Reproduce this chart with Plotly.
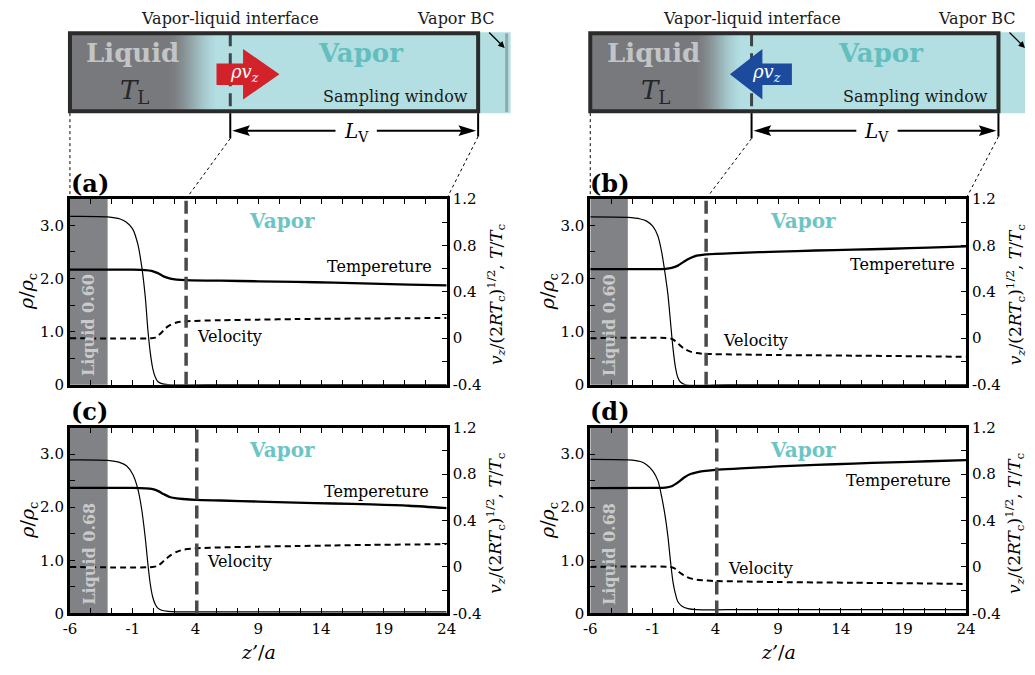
import plotly.graph_objects as go

W, H = 1035, 675
SERIF = "DejaVu Serif"

# ---------------- profiles along z'/a ----------------
# density rho/rho_c (left axis)
z_rho_a = [-6, -3, -2, -1.5, -1, -0.6, -0.3, 0, 0.2, 0.4, 0.6, 0.8, 1.0, 1.3, 1.8, 5, 24]
rho_a = [3.17, 3.16, 3.12, 3.06, 2.93, 2.65, 2.25, 1.65, 1.05, 0.60, 0.30, 0.14, 0.06, 0.02, 0.0, 0.0, 0.0]
z_rho_b = [-6, -3, -2, -1.5, -1, -0.6, -0.3, 0, 0.2, 0.4, 0.6, 0.8, 1.0, 1.2, 1.6, 5, 24]
rho_b = [3.16, 3.15, 3.12, 3.08, 2.98, 2.80, 2.50, 2.05, 1.70, 1.20, 0.70, 0.33, 0.13, 0.05, 0.0, 0.0, 0.0]
z_rho_c = [-6, -3, -2, -1.5, -1, -0.6, -0.3, 0, 0.2, 0.4, 0.6, 0.8, 1.0, 1.3, 1.8, 2.5, 5, 24]
rho_c = [2.89, 2.88, 2.84, 2.78, 2.62, 2.35, 1.98, 1.42, 0.95, 0.55, 0.30, 0.17, 0.10, 0.06, 0.04, 0.03, 0.03, 0.03]
z_rho_d = [-6, -3, -2, -1.5, -1, -0.6, -0.3, 0, 0.2, 0.4, 0.6, 0.8, 1.0, 1.3, 1.8, 2.5, 5, 24]
rho_d = [2.90, 2.89, 2.86, 2.80, 2.68, 2.50, 2.20, 1.80, 1.45, 1.00, 0.60, 0.37, 0.22, 0.14, 0.09, 0.07, 0.07, 0.07]

# temperature T/T_c (right axis)
z_T_a = [-6, -1, 0, 0.5, 1.0, 1.5, 2.0, 2.5, 3.2, 6, 9, 12, 15, 18, 21, 24]
T_a = [0.59, 0.59, 0.587, 0.58, 0.56, 0.53, 0.513, 0.505, 0.50, 0.495, 0.49, 0.485, 0.478, 0.47, 0.462, 0.455]
z_T_b = [-6, -1, 0, 0.5, 1.0, 1.5, 2.0, 2.5, 3.25, 6, 9, 12, 15, 18, 21, 24]
T_b = [0.595, 0.595, 0.597, 0.605, 0.625, 0.66, 0.69, 0.71, 0.722, 0.735, 0.745, 0.755, 0.762, 0.77, 0.78, 0.79]
z_T_c = [-6, -1, 0, 0.5, 1.0, 1.5, 2.0, 2.5, 3, 4, 6, 9, 12, 15, 18, 21, 24]
T_c = [0.68, 0.68, 0.677, 0.672, 0.655, 0.625, 0.60, 0.59, 0.585, 0.578, 0.572, 0.563, 0.553, 0.546, 0.538, 0.527, 0.507]
z_T_d = [-6, -1, 0, 0.5, 1.0, 1.5, 2.0, 2.5, 3, 4, 6, 9, 12, 15, 18, 21, 24]
T_d = [0.678, 0.68, 0.683, 0.695, 0.728, 0.77, 0.80, 0.815, 0.825, 0.836, 0.848, 0.865, 0.878, 0.89, 0.90, 0.91, 0.92]

# velocity v_z/(2RT_c)^(1/2) (right axis)
z_v_a = [-6, 0.5, 0.8, 1.0, 1.3, 1.6, 2.0, 2.5, 3.2, 6, 9, 12, 15, 18, 21, 24]
v_a = [0, 0, 0.005, 0.02, 0.05, 0.085, 0.115, 0.135, 0.145, 0.155, 0.16, 0.165, 0.168, 0.17, 0.172, 0.175]
z_v_b = [-6, 0.3, 0.6, 0.9, 1.2, 1.5, 2.0, 2.5, 3.2, 6, 9, 12, 15, 18, 21, 24]
v_b = [0, 0, -0.01, -0.035, -0.065, -0.09, -0.115, -0.128, -0.135, -0.14, -0.145, -0.147, -0.15, -0.153, -0.156, -0.16]
z_v_c = [-6, 0.6, 1.0, 1.3, 1.6, 2.0, 2.5, 3, 4, 6, 9, 12, 15, 18, 21, 24]
v_c = [0, 0, 0.01, 0.035, 0.065, 0.10, 0.13, 0.148, 0.16, 0.168, 0.175, 0.18, 0.185, 0.19, 0.193, 0.197]
z_v_d = [-6, 0.4, 0.7, 1.0, 1.3, 1.6, 2.0, 2.5, 3, 4, 6, 9, 12, 15, 18, 21, 24]
v_d = [0, 0, -0.01, -0.035, -0.06, -0.08, -0.098, -0.11, -0.115, -0.121, -0.125, -0.13, -0.133, -0.136, -0.139, -0.142, -0.146]

# sampling-window start and liquid band per panel
sample_z = [3.25, 3.25, 4.1, 4.1]
liquid_band = [-6, -3]
liquid_T = ["0.60", "0.60", "0.68", "0.68"]
panel_tags = ["(a)", "(b)", "(c)", "(d)"]

x_ticks = [-6, -1, 4, 9, 14, 19, 24]
rho_ticks = [0, 1, 2, 3]
rho_ticktext = ["0", "1.0", "2.0", "3.0"]
right_ticks = [-0.4, 0, 0.4, 0.8, 1.2]
right_ticktext = ["-0.4", "0", "0.4", "0.8", "1.2"]

profiles = [
    (z_rho_a, rho_a, z_T_a, T_a, z_v_a, v_a),
    (z_rho_b, rho_b, z_T_b, T_b, z_v_b, v_b),
    (z_rho_c, rho_c, z_T_c, T_c, z_v_c, v_c),
    (z_rho_d, rho_d, z_T_d, T_d, z_v_d, v_d),
]

# panel boxes in pixels: left, right, top, bottom
boxes = [(64, 447, 195, 386), (593, 975, 195, 386), (64, 447, 430, 621), (593, 975, 430, 621)]


def P(x):
    return x / W


def Q(y):
    return 1 - y / H


fig = go.Figure()
layout = dict(
    width=W, height=H, margin=dict(l=0, r=0, t=0, b=0),
    paper_bgcolor="white", plot_bgcolor="white", showlegend=False,
    font=dict(family=SERIF, size=15, color="black"),
)
shapes = []
annots = []


def label(x, y, text, size, color="black", angle=0):
    annots.append(dict(xref="paper", yref="paper", x=P(x), y=Q(y), text=text,
                       xanchor="center", yanchor="middle", textangle=angle,
                       showarrow=False, font=dict(family=SERIF, size=size, color=color)))


minor_x = [-6 + k * 5 / 3 for k in range(19)]
tick_font = dict(family=SERIF, size=15, color="black")

for i, ((zr, r, zt, t, zv, v), (x0, x1, y0, y1)) in enumerate(zip(profiles, boxes)):
    xs = "" if i == 0 else str(i + 1)
    yl = str(2 * i + 1) if i > 0 else ""
    yr = str(2 * i + 2)
    xid, ylid, yrid = "x" + xs, "y" + yl, "y" + yr

    layout["xaxis" + xs] = dict(
        domain=[P(x0), P(x1)], range=[-6, 24], anchor=ylid,
        showline=True, linewidth=3, linecolor="black", mirror="allticks",
        ticks="inside", ticklen=5, tickwidth=1.2, tickcolor="black",
        tickmode="array", tickvals=x_ticks, ticktext=[str(v_) for v_ in x_ticks],
        showticklabels=(i >= 2), tickfont=tick_font,
        minor=dict(ticks="inside", ticklen=5, tickwidth=1.2, tickcolor="black",
                   tickmode="array", tickvals=minor_x),
        showgrid=False, zeroline=False, fixedrange=True,
    )
    layout["yaxis" + yl] = dict(
        domain=[Q(y1), Q(y0)], range=[0, 3.5], anchor=xid,
        showline=True, linewidth=3, linecolor="black", mirror=True,
        ticks="inside", ticklen=5, tickwidth=1.2, tickcolor="black",
        tickmode="array", tickvals=rho_ticks, ticktext=rho_ticktext, tickfont=tick_font,
        minor=dict(ticks="inside", ticklen=5, tickwidth=1.2, tickcolor="black",
                   tickmode="array", tickvals=[0.5, 1.5, 2.5, 3.5]),
        showgrid=False, zeroline=False, fixedrange=True,
    )
    layout["yaxis" + yr] = dict(
        overlaying=ylid, side="right", anchor=xid, range=[-0.4, 1.2],
        showline=True, linewidth=3, linecolor="black",
        ticks="inside", ticklen=5, tickwidth=1.2, tickcolor="black",
        tickmode="array", tickvals=right_ticks, ticktext=right_ticktext, tickfont=tick_font,
        minor=dict(ticks="inside", ticklen=5, tickwidth=1.2, tickcolor="black",
                   tickmode="array", tickvals=[-0.2, 0.2, 0.6, 1.0]),
        showgrid=False, zeroline=False, fixedrange=True,
    )

    # liquid reservoir band
    shapes.append(dict(type="rect", xref=xid, yref=ylid + " domain",
                       x0=liquid_band[0], x1=liquid_band[1], y0=0, y1=1,
                       fillcolor="#808285", line=dict(width=0), layer="below"))

    fig.add_trace(go.Scatter(x=zr, y=r, xaxis=xid, yaxis=ylid, mode="lines",
                             line=dict(color="black", width=1.2, shape="spline", smoothing=0.8),
                             hoverinfo="skip"))
    fig.add_trace(go.Scatter(x=zt, y=t, xaxis=xid, yaxis=yrid, mode="lines",
                             line=dict(color="black", width=2.3, shape="spline", smoothing=0.8),
                             hoverinfo="skip"))
    fig.add_trace(go.Scatter(x=zv, y=v, xaxis=xid, yaxis=yrid, mode="lines",
                             line=dict(color="black", width=2, dash="6px,4px", shape="spline", smoothing=0.8),
                             hoverinfo="skip"))

    # start of the sampling window
    shapes.append(dict(type="line", xref=xid, yref=ylid + " domain",
                       x0=sample_z[i], x1=sample_z[i], y0=0, y1=1,
                       line=dict(color="#474b4e", width=3.5, dash="13px,6px"), layer="above"))

    # panel texts
    label(x0 + 20, y0 - 16, "<b>%s</b>" % panel_tags[i], 24)
    label(x0 + 216, y0 + 23, "<b>Vapor</b>", 20, "#6cc5c4")
    label(x0 + 19, y0 + 130, "<b>Liquid %s</b>" % liquid_T[i], 16, "#c9cacc", -90)
    label(x0 - 43, y0 + 95, "<i>ρ</i>/<i>ρ</i><sub>c</sub>", 19, angle=-90)
    label(x1 + 50, y0 + 98,
          "<i>v</i><sub><i>z</i></sub>/(2<i>RT</i><sub>c</sub>)<sup>1/2</sup>, <i>T</i>/<i>T</i><sub>c</sub>",
          17, angle=-90)
    if i >= 2:
        label((x0 + x1) / 2, y1 + 40, "<i>z’</i>/<i>a</i>", 19)

# curve labels (pixel positions of text centres)
temp_lbl = [(379, 265), (910, 263), (376, 496), (906, 484)]
vel_lbl = [(226, 336), (761, 341), (236, 568), (766, 575)]
for (tx, ty), (vx, vy) in zip(temp_lbl, vel_lbl):
    label(tx, ty, "Tempereture", 16)
    label(vx, vy, "Velocity", 16)

# ---------------- schematic of the simulation cell ----------------
GRAY = (0x78, 0x79, 0x7d)
BLUE = (0xb3, 0xdf, 0xe3)


def mix(t):
    c = [round(a + (b - a) * t) for a, b in zip(GRAY, BLUE)]
    return "rgb(%d,%d,%d)" % tuple(c)


cells = [
    dict(bx0=64, bx1=479, g0=160, g1=216, xi=227, ext=512, bc_line=True, direction=1, arrow="#d2232a"),
    dict(bx0=593, bx1=1008, g0=696, g1=748, xi=757, ext=1035, bc_line=False, direction=-1, arrow="#1c4a9c"),
]
top, bot = 25, 105
for c in cells:
    # vapor boundary region beyond the window
    shapes.append(dict(type="rect", xref="paper", yref="paper", x0=P(c["bx1"]), x1=P(c["ext"]),
                       y0=Q(107), y1=Q(24), fillcolor="#b3dfe3", line=dict(width=0)))
    if c["bc_line"]:
        shapes.append(dict(type="line", xref="paper", yref="paper", x0=P(508), x1=P(508),
                           y0=Q(25), y1=Q(106), line=dict(color="#8ea9b0", width=3)))
    shapes.append(dict(type="rect", xref="paper", yref="paper", x0=P(c["g1"] - 2), x1=P(c["bx1"]),
                       y0=Q(bot), y1=Q(top), fillcolor=mix(1), line=dict(width=0)))
    n = 28
    step = (c["g1"] - c["g0"]) / n
    # strips drawn right-to-left so each overlaps its lighter neighbour
    for k in reversed(range(n)):
        tt = (k + 0.5) / n
        tt = tt * tt * (3 - 2 * tt)
        shapes.append(dict(type="rect", xref="paper", yref="paper",
                           x0=P(c["g0"] + k * step), x1=P(c["g0"] + (k + 1) * step + 1.5),
                           y0=Q(bot), y1=Q(top), fillcolor=mix(tt), line=dict(width=0)))
    shapes.append(dict(type="rect", xref="paper", yref="paper", x0=P(c["bx0"]), x1=P(c["g0"] + 0.8),
                       y0=Q(bot), y1=Q(top), fillcolor=mix(0), line=dict(width=0)))
    # interface
    shapes.append(dict(type="line", xref="paper", yref="paper", x0=P(c["xi"]), x1=P(c["xi"]),
                       y0=Q(top), y1=Q(bot), line=dict(color="#3e4548", width=3, dash="13px,7px")))
    # frame
    shapes.append(dict(type="rect", xref="paper", yref="paper", x0=P(c["bx0"]), x1=P(c["bx1"]),
                       y0=Q(bot), y1=Q(top), line=dict(color="#2b2b2b", width=4)))
    # mass-flux arrow
    if c["direction"] > 0:
        xa, xb, xt = 213, 240, 277
    else:
        xa, xb, xt = 798, 768, 735
    path = "M %f %f L %f %f L %f %f L %f %f L %f %f L %f %f L %f %f Z" % (
        P(xa), Q(56), P(xb), Q(56), P(xb), Q(41), P(xt), Q(67), P(xb), Q(93), P(xb), Q(78), P(xa), Q(78))
    shapes.append(dict(type="path", xref="paper", yref="paper", path=path,
                       fillcolor=c["arrow"], line=dict(width=0)))
    label(241 if c["direction"] > 0 else 772, 66, "<i>ρv</i><sub><i>z</i></sub>", 18, "white")
    # window length L_V
    xl, xr2 = c["xi"], c["bx1"]
    mid = (xl + xr2) / 2 + 2
    shapes.append(dict(type="line", xref="paper", yref="paper", x0=P(xl), x1=P(xl),
                       y0=Q(107), y1=Q(133), line=dict(color="black", width=2)))
    shapes.append(dict(type="line", xref="paper", yref="paper", x0=P(xr2), x1=P(xr2),
                       y0=Q(107), y1=Q(131), line=dict(color="black", width=2)))
    shapes.append(dict(type="line", xref="paper", yref="paper", x0=P(xl + 8), x1=P(mid - 21),
                       y0=Q(125), y1=Q(125), line=dict(color="black", width=2)))
    shapes.append(dict(type="line", xref="paper", yref="paper", x0=P(mid + 21), x1=P(xr2 - 8),
                       y0=Q(125), y1=Q(125), line=dict(color="black", width=2)))
    for tip, base in ((xl + 2, xl + 20), (xr2 - 2, xr2 - 20)):
        path = "M %f %f L %f %f L %f %f L %f %f Z" % (
            P(tip), Q(125), P(base), Q(119.5), P(base - (3 if tip < base else -3)), Q(125), P(base), Q(130.5))
        shapes.append(dict(type="path", xref="paper", yref="paper", path=path,
                           fillcolor="black", line=dict(width=0)))
    label(mid, 126, "<i>L</i><sub>V</sub>", 20)

    # labels inside the cell
    lx = c["bx0"] + 64
    label(lx, 45, "<b>Liquid</b>", 26, "#c3c4c6")
    label(lx + 2, 85, "<i>T</i><sub>L</sub>", 26, "#262626")
    label(c["bx0"] + 295, 45, "<b>Vapor</b>", 26, "#62bfbd")
    label(c["bx1"] - 84, 90, "Sampling window", 16, "#1a1a1a")
    label(c["xi"], 10, "Vapor-liquid interface", 16, "#1a1a1a")
    label(c["bx1"] - 22, 10, "Vapor BC", 16, "#1a1a1a")
    annots.append(dict(xref="paper", yref="paper", x=P(c["bx1"] + 27), y=Q(40), text="",
                       showarrow=True, arrowhead=2, arrowsize=1, arrowwidth=1.3, arrowcolor="black",
                       ax=-17, ay=-17))

# dotted guides from the cell down to the panels on the top row
for c, (x0, x1, y0, y1), zs in zip(cells, boxes[:2], sample_z[:2]):
    xs_px = x0 + (zs + 6) / 30 * (x1 - x0)
    for (ax_, ay_, bx_, by_) in ((c["bx0"], 107, x0, y0), (c["xi"], 133, xs_px, y0), (c["bx1"], 131, x1, y0)):
        shapes.append(dict(type="line", xref="paper", yref="paper", x0=P(ax_), y0=Q(ay_),
                           x1=P(bx_), y1=Q(by_), line=dict(color="black", width=1, dash="dot")))

layout["shapes"] = shapes
layout["annotations"] = annots
fig.update_layout(**layout)
fig.write_html("out.html")
